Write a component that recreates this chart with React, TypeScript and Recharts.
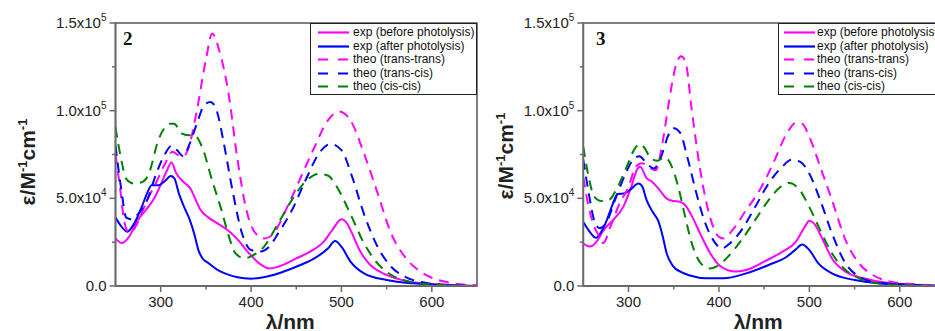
import React from 'react'
import { LineChart, Line, XAxis, YAxis, ReferenceArea, Legend } from 'recharts'

type Pt = [number, number]

// wavelength (nm), epsilon in 1e4 M^-1 cm^-1 -- compound 2
const before2: Pt[] = [[250,2.72],[257,2.45],[265,2.8],[274,3.7],[283,4.3],[294,5.1],[301,5.9],[307,6.6],[312,7.05],[317,6.45],[326,5.9],[333,5.55],[338,5.0],[344,4.35],[353,3.9],[362,3.6],[375,3.15],[386,2.6],[398,1.85],[410,1.25],[420,1.0],[430,1.1],[450,1.57],[470,2.1],[480,2.5],[490,3.2],[500,3.8],[505,3.66],[510,3.2],[520,2.05],[530,1.3],[550,0.63],[575,0.25],[600,0.11],[650,0]]
const after2: Pt[] = [[250,3.9],[255,3.5],[263,3.1],[270,3.5],[279,4.5],[285,5.3],[290,5.75],[298,5.75],[305,6.0],[311,6.27],[315,6.15],[320,5.3],[326,4.5],[332,3.8],[337,3.0],[342,2.0],[346,1.6],[353,1.3],[362,0.95],[371,0.72],[385,0.5],[400,0.42],[420,0.57],[450,1.1],[470,1.57],[485,2.14],[493,2.56],[500,2.24],[510,1.39],[525,0.72],[550,0.34],[580,0.15],[600,0.09],[650,0]]
const transTrans2: Pt[] = [[250,7.5],[255,5.6],[260,3.6],[265,3.05],[270,3.2],[277,3.9],[285,4.9],[295,5.9],[305,7.0],[313,7.65],[320,7.45],[325,7.4],[331,7.9],[340,10.0],[350,12.9],[357,14.4],[365,13.4],[375,11.0],[385,7.2],[395,4.3],[405,3.0],[415,2.71],[425,3.0],[440,4.5],[455,6.2],[470,7.9],[485,9.45],[497,9.95],[510,9.45],[525,7.55],[540,5.3],[555,3.0],[570,1.67],[585,0.91],[600,0.47],[620,0.19],[650,0.04]]
const transCis2: Pt[] = [[250,8.0],[256,5.65],[262,3.9],[268,3.8],[275,4.1],[285,4.9],[295,6.4],[305,7.55],[312,8.0],[318,7.75],[325,7.4],[332,8.1],[340,9.26],[348,10.3],[355,10.5],[362,10.0],[370,8.1],[380,5.3],[390,3.0],[400,2.05],[410,1.97],[420,2.24],[430,3.0],[445,4.3],[460,6.0],[475,7.55],[488,8.1],[500,7.75],[512,6.2],[525,4.1],[540,2.24],[555,1.1],[570,0.53],[590,0.21],[610,0.08],[650,0]]
const cisCis2: Pt[] = [[250,9.05],[256,7.3],[262,6.1],[270,5.85],[278,5.9],[286,6.3],[298,8.4],[310,9.25],[315,9.25],[323,8.7],[331,8.6],[337,8.6],[346,7.9],[357,6.0],[368,4.2],[375,2.9],[383,1.85],[393,1.58],[402,1.75],[412,2.1],[430,3.57],[445,4.9],[460,5.95],[475,6.4],[485,6.3],[495,5.65],[510,4.1],[525,2.43],[540,1.29],[555,0.63],[575,0.25],[600,0.09],[650,0]]

// compound 3
const before3: Pt[] = [[250,2.42],[257,2.25],[265,2.55],[272,3.15],[283,3.76],[294,4.5],[303,5.65],[310,6.7],[313,6.8],[320,6.15],[326,5.95],[334,5.5],[343,4.95],[350,4.85],[357,4.8],[362,4.65],[370,4.0],[380,2.9],[390,1.9],[401,1.15],[411,0.88],[418,0.82],[430,0.91],[450,1.39],[470,1.95],[485,2.52],[495,3.38],[500,3.72],[505,3.57],[515,2.62],[525,1.57],[540,0.82],[560,0.44],[590,0.15],[650,0]]
const after3: Pt[] = [[250,3.65],[257,3.1],[264,2.75],[270,3.1],[276,3.76],[282,4.6],[288,5.25],[295,5.27],[302,5.5],[311,5.85],[315,5.7],[320,4.9],[327,4.2],[333,3.7],[338,2.8],[342,1.9],[349,1.15],[358,0.8],[368,0.6],[386,0.44],[405,0.44],[430,0.72],[455,1.2],[475,1.67],[485,2.09],[492,2.37],[500,2.05],[510,1.29],[525,0.72],[550,0.34],[580,0.15],[650,0]]
const transTrans3: Pt[] = [[250,6.2],[256,4.5],[262,3.4],[268,2.8],[272,2.45],[280,3.38],[290,4.7],[300,5.65],[308,6.8],[315,7.0],[322,6.8],[330,6.6],[338,8.3],[345,10.6],[352,12.5],[358,13.1],[363,12.8],[370,10.0],[380,6.4],[390,3.95],[400,2.8],[405,2.71],[415,3.19],[430,4.33],[445,5.46],[460,7.0],[475,8.7],[485,9.3],[492,9.25],[500,8.5],[512,6.8],[525,4.9],[540,2.62],[555,1.29],[570,0.63],[590,0.25],[620,0.09],[650,0]]
const transCis3: Pt[] = [[250,7.2],[256,5.3],[262,3.76],[268,3.3],[275,3.57],[285,4.9],[295,6.2],[305,7.2],[312,7.4],[320,7.0],[328,6.7],[336,7.36],[344,8.6],[350,9.0],[357,8.75],[365,7.36],[375,5.3],[385,3.57],[395,2.52],[403,2.14],[412,2.43],[425,3.19],[440,4.5],[455,5.85],[470,6.8],[480,7.2],[490,7.08],[500,6.4],[512,4.9],[525,3.0],[540,1.29],[555,0.53],[575,0.19],[600,0.08],[650,0]]
const cisCis3: Pt[] = [[250,7.93],[256,6.2],[262,5.1],[270,4.85],[278,4.9],[288,5.65],[298,6.8],[306,7.75],[312,8.1],[318,7.85],[325,7.25],[332,7.15],[340,7.35],[348,6.8],[355,5.65],[362,4.1],[370,2.43],[380,1.29],[390,1.0],[400,1.2],[410,1.67],[425,2.62],[440,3.76],[455,4.9],[468,5.65],[478,5.88],[488,5.56],[500,4.5],[512,3.19],[525,1.86],[540,0.91],[555,0.44],[575,0.15],[600,0.06],[650,0]]

const seriesNames = ['exp (before photolysis)', 'exp (after photolysis)', 'theo (trans-trans)', 'theo (trans-cis)', 'theo (cis-cis)']
const seriesColors = ['#ff00ff', '#0000ff', '#ff00ff', '#0000ff', '#008000']
const seriesDashed = [false, false, true, true, true]

const xTicks = [300, 350, 400, 450, 500, 550, 600]
const xLabels = [300, 400, 500, 600]
const yTicks = [0, 2.5, 5, 7.5, 10, 12.5, 15]
const yLabels: Record<number, [string, string]> = { 0: ['0.0', ''], 5: ['5.0x10', '4'], 10: ['1.0x10', '5'], 15: ['1.5x10', '5'] }

const AXIS = '#6a6a6a'
const FONT = '"Liberation Sans", Arial, sans-serif'

const toPts = (arr: Pt[]) => arr.map(([x, y]) => ({ x, y }))

function XTick(props: any) {
  const { x, y, payload } = props
  const major = xLabels.includes(payload.value)
  return (
    <g>
      <line x1={x} x2={x} y1={y} y2={y + (major ? 6 : 3.5)} stroke={AXIS} strokeWidth={1.5} />
      {major && (
        <text x={x} y={y + 21} textAnchor="middle" fontSize={15} fill="#222" fontFamily={FONT}>
          {payload.value}
        </text>
      )}
    </g>
  )
}

function YTick(props: any) {
  const { x, y, payload } = props
  const lab = yLabels[payload.value]
  return (
    <g>
      <line x1={x} x2={x - (lab ? 6 : 3.5)} y1={y} y2={y} stroke={AXIS} strokeWidth={1.5} />
      {lab && (
        <text x={x - 9} y={y + 5} textAnchor="end" fontSize={15} fill="#222" fontFamily={FONT}>
          <tspan>{lab[0]}</tspan>
          {lab[1] && <tspan dy={-7} fontSize={10}>{lab[1]}</tspan>}
        </text>
      )}
    </g>
  )
}

function makeLegend(sampleX: number, textX: number, boxWidth: number) {
  return () => (
    <div style={{ width: boxWidth, height: 72, boxSizing: 'border-box', border: '1.5px solid #222', background: '#fff', position: 'relative' }}>
      {seriesNames.map((n, i) => (
        <div key={n} style={{ position: 'absolute', top: 1 + i * 13.5, left: 0, height: 13.5, width: boxWidth + 40 }}>
          <svg width={40} height={14} style={{ position: 'absolute', left: sampleX, top: 0 }}>
            <line x1={0} x2={31} y1={7.5} y2={7.5} stroke={seriesColors[i]} strokeWidth={2.2} strokeDasharray={seriesDashed[i] ? '10 10' : undefined} />
          </svg>
          <span style={{ position: 'absolute', left: textX, top: 0, fontFamily: FONT, fontSize: 12, lineHeight: '14px', color: '#111', whiteSpace: 'nowrap' }}>{n}</span>
        </div>
      ))}
    </div>
  )
}

type PanelProps = {
  series: Pt[][]
  yAxisWidth: number
  width: number
  right: number
  legendLeft: number
  legendSample: number
  legendText: number
  legendWidth: number
  yTitleX: number
  yTitleY: number
  xTitleShift: number
}

function Panel(p: PanelProps) {
  return (
    <LineChart width={p.width} height={331} margin={{ top: 23, right: p.right, bottom: 0, left: 0 }}>
      <ReferenceArea x1={250} x2={650} y1={0} y2={15} fill="none" stroke="#555" strokeWidth={1.5} />
      <XAxis
        dataKey="x"
        type="number"
        domain={[250, 650]}
        allowDataOverflow
        ticks={xTicks}
        interval={0}
        tickSize={0}
        tickMargin={0}
        tick={XTick}
        height={45}
        axisLine={{ stroke: AXIS, strokeWidth: 1.8 }}
        label={{
          content: (lp: any) => {
            const vb = lp.viewBox
            return (
              <text x={vb.x + vb.width / 2 + p.xTitleShift} y={vb.y + 43} textAnchor="middle" fontSize={21} fontWeight="bold" fill="#222" fontFamily={FONT}>
                λ/nm
              </text>
            )
          },
        }}
      />
      <YAxis
        type="number"
        domain={[0, 15]}
        ticks={yTicks}
        interval={0}
        tickSize={0}
        tickMargin={0}
        tick={YTick}
        width={p.yAxisWidth}
        axisLine={{ stroke: AXIS, strokeWidth: 1.8 }}
        label={{
          content: () => (
            <text transform={`translate(${p.yTitleX},${p.yTitleY}) rotate(-90)`} y={7} textAnchor="middle" fontSize={21} fontWeight="bold" fill="#222" fontFamily={FONT}>
              <tspan>ε/M</tspan>
              <tspan dy={-8} fontSize={13}>-1</tspan>
              <tspan dy={8}>cm</tspan>
              <tspan dy={-8} fontSize={13}>-1</tspan>
            </text>
          ),
        }}
      />
      <Legend
        layout="vertical"
        align="center"
        verticalAlign="middle"
        wrapperStyle={{ left: p.legendLeft, top: 23, width: p.legendWidth, height: 72 }}
        content={makeLegend(p.legendSample, p.legendText, p.legendWidth)}
      />
      {p.series.map((s, i) => (
        <Line
          key={seriesNames[i]}
          name={seriesNames[i]}
          data={toPts(s)}
          dataKey="y"
          type="monotone"
          stroke={seriesColors[i]}
          strokeWidth={2}
          strokeDasharray={seriesDashed[i] ? '10 7' : undefined}
          dot={false}
          activeDot={false}
          isAnimationActive={false}
        />
      ))}
    </LineChart>
  )
}

const numStyle: React.CSSProperties = {
  position: 'absolute',
  top: 28,
  fontFamily: '"Liberation Serif", "Times New Roman", serif',
  fontWeight: 'bold',
  fontSize: 19,
  color: '#111',
}

export default function App() {
  return (
    <div style={{ position: 'absolute', left: 0, top: 0, width: 935, height: 331, overflow: 'hidden', background: '#fff' }}>
      <div style={{ position: 'absolute', left: 0, top: 0 }}>
        <Panel
          series={[before2, after2, transTrans2, transCis2, cisCis2]}
          yAxisWidth={115.5}
          width={480}
          right={3}
          legendLeft={310}
          legendSample={7}
          legendText={42}
          legendWidth={167}
          yTitleX={28}
          yTitleY={162}
          xTitleShift={-6}
        />
      </div>
      <div style={{ position: 'absolute', left: 480, top: 0 }}>
        <Panel
          series={[before3, after3, transTrans3, transCis3, cisCis3]}
          yAxisWidth={103.3}
          width={470}
          right={5}
          legendLeft={298}
          legendSample={5}
          legendText={38}
          legendWidth={172}
          yTitleX={26}
          yTitleY={156}
          xTitleShift={-6}
        />
      </div>
      <div style={{ ...numStyle, left: 123 }}>2</div>
      <div style={{ ...numStyle, left: 596 }}>3</div>
    </div>
  )
}
